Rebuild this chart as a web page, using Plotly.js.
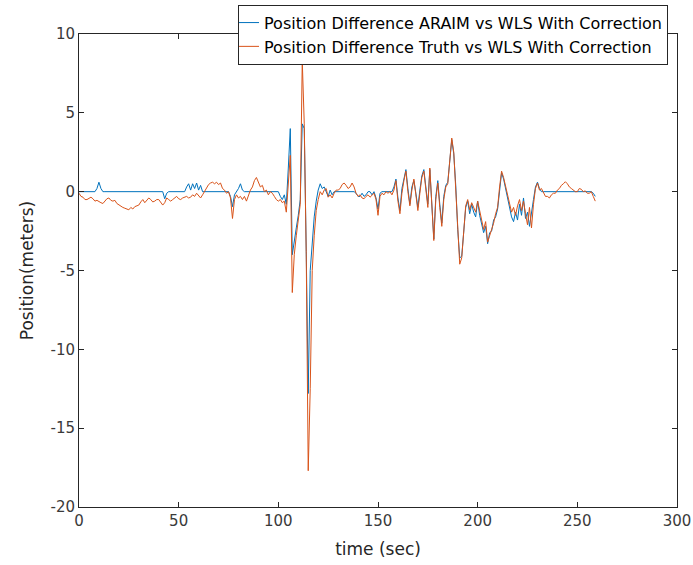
<!DOCTYPE html>
<html>
<head>
<meta charset="utf-8">
<script src="https://cdn.plot.ly/plotly-3.0.1.min.js"></script>
<style>html,body{margin:0;padding:0;background:#fff;}#chart{width:693px;height:565px;}</style>
</head>
<body>
<div id="chart"></div>
<script>
// Sample times: t = 0, 1, 2, ... seconds (x0 = 0, dx = 1)
const timeStart = 0;
const timeStep = 1;

const seriesNames = [
  "Position Difference ARAIM vs WLS With Correction",
  "Position Difference Truth vs WLS With Correction"
];

// Position difference ARAIM vs WLS (meters), t = 0..259
const araimDiff = [
  0, 0, 0, 0, 0, 0, 0, 0, 0, 0.2,            // 0-9
  0.6, 0.2, 0, 0, 0, 0, 0, 0, 0, 0,          // 10-19
  0, 0, 0, 0, 0, 0, 0, 0, 0, 0,              // 20-29
  0, 0, 0, 0, 0, 0, 0, 0, 0, 0,              // 30-39
  0, 0, 0, -0.45, -0.1, 0, 0, 0, 0, 0,       // 40-49
  0, 0, 0, 0, 0.3, 0.5, 0.1, 0.5, 0.2, 0.55, // 50-59
  0.1, 0.4, 0, 0, 0, 0, 0, 0, 0, 0,          // 60-69
  0, 0, 0, 0, 0, 0, -0.3, -0.95, -0.2, 0,    // 70-79
  0.2, 0.5, 0.1, 0, 0, 0, 0, 0, 0, 0,        // 80-89
  0, 0, 0, 0, 0, 0, 0, 0, 0, 0,              // 90-99
  0, -0.3, -0.5, -0.2, -0.8, 1.5, 4.0, -4.0, -3.0, -2.3, // 100-109
  -1.5, -0.5, 4.3, 4.0, -3.8, -12.8, -5.0, -3.2, -1.6, -0.6, // 110-119
  0.1, 0.5, 0.2, 0.3, 0.0, -0.3, 0.1, -0.2, 0, 0, // 120-129
  0, 0, 0, 0, 0, 0, 0, 0, 0, -0.1,           // 130-139
  -0.3, -0.3, -0.1, -0.3, -0.2, 0, 0, -0.2, 0, -0.4, // 140-149
  -1.1, -0.1, 0, 0, 0, 0, 0, 0, 0.3, 0.8,    // 150-159
  -0.4, -1.2, 0.2, 0.9, 1.4, 0.2, -0.8, 0.3, 0.7, -0.1, // 160-169
  -1.0, 0.1, 1.0, 1.4, 0.2, -0.8, 1.4, -0.8, -3.0, -0.3, // 170-179
  0.7, -0.8, -2.0, -0.3, 0.4, 0.6, 1.9, 3.3, 2.4, 0.4, // 180-189
  -2.4, -4.2, -4.1, -2.3, -1.0, -0.6, -1.4, -0.8, -1.3, -1.6, // 190-199
  -0.6, -1.5, -2.1, -2.6, -2.2, -3.3, -2.6, -2.5, -1.8, -1.6, // 200-209
  -1.1, 0.2, 1.2, 0.8, 0.2, -0.4, -1.1, -1.6, -1.9, -1.3, // 210-219
  -1.8, -0.8, -1.5, -0.4, -1.7, -1.3, -2.2, -1.2, -0.5, 0.3, // 220-229
  0.6, 0.2, 0, 0, 0, 0, 0, 0, 0, 0,          // 230-239
  0, 0, 0, 0, 0, 0, 0, 0, 0, 0,              // 240-249
  0, 0, 0, 0, 0, 0, 0, 0, -0.1, -0.3         // 250-259
];

// Position difference Truth vs WLS (meters), t = 0..259
const truthDiff = [
  -0.1, -0.3, -0.35, -0.5, -0.5, -0.45, -0.35, -0.45, -0.6, -0.55, // 0-9
  -0.65, -0.7, -0.75, -0.6, -0.45, -0.4, -0.55, -0.6, -0.55, -0.75, // 10-19
  -0.85, -0.95, -1.0, -1.05, -1.1, -1.15, -1.0, -1.1, -0.95, -0.9,  // 20-29
  -0.85, -0.65, -0.5, -0.7, -0.55, -0.4, -0.5, -0.65, -0.6, -0.5,   // 30-39
  -0.5, -0.65, -0.85, -0.7, -0.4, -0.5, -0.6, -0.5, -0.4, -0.3,     // 40-49
  -0.45, -0.5, -0.4, -0.35, -0.3, -0.4, -0.35, -0.2, -0.3, -0.1,    // 50-59
  -0.25, -0.4, -0.2, 0.0, 0.2, 0.45, 0.55, 0.6, 0.5, 0.6,           // 60-69
  0.45, 0.55, 0.2, 0.1, -0.1, 0.0, -0.4, -1.7, -0.5, -0.2,          // 70-79
  -0.4, -0.3, -0.5, -0.3, -0.6, -0.2, 0.1, 0.3, 0.7, 0.9,           // 80-89
  0.6, 0.3, 0.4, 0.0, 0.1, -0.2, 0.0, -0.1, -0.3, -0.5,             // 90-99
  -0.6, -0.5, -0.7, -0.6, -1.3, 0.5, 2.3, -6.4, -4.0, -2.8,         // 100-109
  -1.7, -0.8, 8.3, 4.3, -4.0, -17.7, -12.5, -5.0, -2.8, -1.2,       // 110-119
  -0.5, 0.0, -0.2, 0.1, 0.2, -0.35, -0.2, -0.4, -0.1, 0.1,          // 120-129
  0.1, 0.2, 0.45, 0.55, 0.4, 0.2, 0.3, 0.55, 0.3, -0.1,             // 130-139
  -0.3, -0.2, -0.4, -0.45, -0.3, -0.2, -0.35, -0.2, -0.1, -0.5,     // 140-149
  -1.5, -0.3, -0.1, -0.2, 0.0, -0.1, 0.0, -0.2, 0.1, 0.7,           // 150-159
  -0.6, -1.4, -0.1, 0.7, 1.3, 0.0, -0.9, 0.1, 0.8, -0.2,            // 160-169
  -1.2, -0.1, 0.9, 1.3, 0.0, -1.0, 1.5, -1.0, -3.1, -0.5,           // 170-179
  0.55, -1.0, -2.2, -0.5, 0.3, 0.5, 2.0, 3.4, 2.5, 0.3,             // 180-189
  -2.6, -4.6, -4.2, -2.2, -0.9, -0.5, -1.15, -0.7, -1.0, -1.3,      // 190-199
  -0.6, -1.2, -1.8, -2.4, -1.9, -3.2, -2.8, -2.4, -2.0, -1.4,       // 200-209
  -1.0, 0.3, 1.3, 0.9, 0.3, -0.2, -0.9, -1.3, -1.0, -1.5,           // 210-219
  -0.9, -0.5, -1.2, -0.6, -1.4, -2.1, -1.0, -2.3, -0.8, 0.2,        // 220-229
  0.55, 0.1, 0.2, -0.1, -0.3, -0.3, -0.4, -0.2, -0.1, -0.1,         // 230-239
  0.1, 0.2, 0.4, 0.5, 0.63, 0.5, 0.3, 0.2, 0.1, 0.0,                // 240-249
  0.0, 0.2, 0.15, 0.0, 0.05, -0.1, -0.1, 0.0, -0.3, -0.6            // 250-259
];

const xTickVals = [0, 50, 100, 150, 200, 250, 300];
const yTickVals = [-20, -15, -10, -5, 0, 5, 10];

const axisColor = '#262626';
const fontFamily = '"DejaVu Sans", Verdana, sans-serif';

const traces = [
  {
    type: 'scatter', mode: 'lines', name: seriesNames[0],
    x0: timeStart, dx: timeStep, y: araimDiff,
    line: {color: '#0072BD', width: 1}
  },
  {
    type: 'scatter', mode: 'lines', name: seriesNames[1],
    x0: timeStart, dx: timeStep, y: truthDiff,
    line: {color: '#D95319', width: 1}
  }
];

const axisCommon = {
  showline: true, linecolor: axisColor, linewidth: 1, mirror: 'ticks',
  ticks: 'inside', ticklen: 5, tickwidth: 1, tickcolor: axisColor,
  showgrid: false, zeroline: false,
  tickfont: {family: fontFamily, size: 15, color: '#3a3a3a'}
};

const layout = {
  width: 693, height: 565,
  paper_bgcolor: '#ffffff', plot_bgcolor: '#ffffff',
  margin: {l: 79, r: 16, t: 34, b: 58, autoexpand: false},
  font: {family: fontFamily, color: axisColor},
  showlegend: true,
  legend: {
    x: 0.985, xanchor: 'right', y: 1.062, yanchor: 'top',
    bgcolor: '#ffffff', bordercolor: axisColor, borderwidth: 1,
    font: {family: fontFamily, size: 16, color: '#000000'},
    tracegroupgap: 0, itemwidth: 30, indentation: -15
  },
  xaxis: Object.assign({}, axisCommon, {
    range: [0, 300], tickvals: xTickVals, ticktext: xTickVals.map(String),
    title: {text: 'time (sec)', font: {family: fontFamily, size: 17, color: axisColor}, standoff: 14}
  }),
  yaxis: Object.assign({}, axisCommon, {
    range: [-20, 10], tickvals: yTickVals, ticktext: yTickVals.map(String),
    title: {text: 'Position(meters)', font: {family: fontFamily, size: 17, color: axisColor}, standoff: 12}
  })
};

Plotly.newPlot('chart', traces, layout, {displayModeBar: false, staticPlot: true});
</script>
</body>
</html>
